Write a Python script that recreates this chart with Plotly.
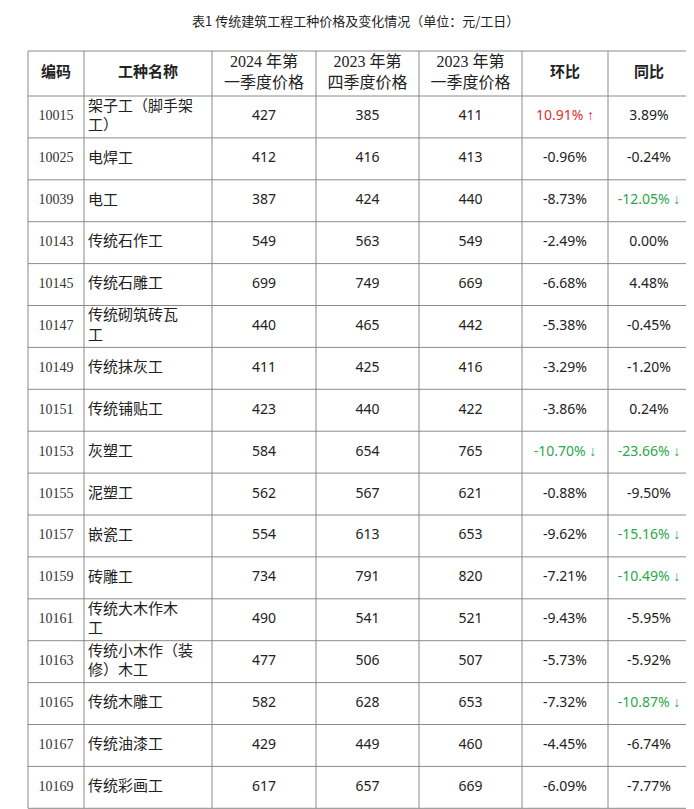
import plotly.graph_objects as go

codes = ["10015","10025","10039","10143","10145","10147","10149","10151","10153","10155","10157","10159","10161","10163","10165","10167","10169"]
names = ["架子工（脚手架<br>工）","电焊工","电工","传统石作工","传统石雕工","传统砌筑砖瓦<br>工","传统抹灰工","传统铺贴工","灰塑工","泥塑工","嵌瓷工","砖雕工","传统大木作木<br>工","传统小木作（装<br>修）木工","传统木雕工","传统油漆工","传统彩画工"]
p2024q1 = [427,412,387,549,699,440,411,423,584,562,554,734,490,477,582,429,617]
p2023q4 = [385,416,424,563,749,465,425,440,654,567,613,791,541,506,628,449,657]
p2023q1 = [411,413,440,549,669,442,416,422,765,621,653,820,521,507,653,460,669]
hb = [10.91,-0.96,-8.73,-2.49,-6.68,-5.38,-3.29,-3.86,-10.70,-0.88,-9.62,-7.21,-9.43,-5.73,-7.32,-4.45,-6.09]
tb = [3.89,-0.24,-12.05,0.00,4.48,-0.45,-1.20,0.24,-23.66,-9.50,-15.16,-10.49,-5.95,-5.92,-10.87,-6.74,-7.77]
headers = ["编码","工种名称","2024 年第<br>一季度价格","2023 年第<br>四季度价格","2023 年第<br>一季度价格","环比","同比"]

def fmt(v):
    s = f"{v:.2f}%"
    if v >= 10: return s + " ↑", "#e03030"
    if v <= -10: return s + " ↓", "#2aa84a"
    return s, "#222222"

hb_t, hb_c = map(list, zip(*[fmt(v) for v in hb]))
tb_t, tb_c = map(list, zip(*[fmt(v) for v in tb]))
n = len(codes)

edges = [20, 76, 204, 308, 411, 514, 600, 682]
top, head_bot, row_h = 43, 88, 41.9
bottom = head_bot + n * row_h
ys = [head_bot + (i + 0.5) * row_h for i in range(n)]
centers = [(edges[i] + edges[i+1]) / 2 for i in range(7)]

fig = go.Figure()
line = dict(color="#8a8a8a", width=1)
for x in edges:
    fig.add_shape(type="line", x0=x, x1=x, y0=top, y1=bottom, line=line)
for y in [top, head_bot] + [head_bot + (i + 1) * row_h for i in range(n)]:
    fig.add_shape(type="line", x0=edges[0], x1=edges[-1], y0=y, y1=y, line=line)

def col(x, vals, colors, fam, size, pos="middle center"):
    fig.add_trace(go.Scatter(x=[x]*len(vals), y=ys[:len(vals)] if len(vals) == n else vals, mode="text",
                             text=vals, textposition=pos, hoverinfo="skip",
                             textfont=dict(family=fam, size=size, color=colors)))

hy = (top + head_bot) / 2
for i, h in enumerate(headers):
    fam = "Liberation Serif, Noto Sans CJK SC" if 2 <= i <= 4 else "Noto Sans CJK SC"
    txt = h if 2 <= i <= 4 else f"<b>{h}</b>"
    fig.add_trace(go.Scatter(x=[centers[i]], y=[hy], mode="text", text=[txt], hoverinfo="skip",
                             textfont=dict(family=fam, size=16 if 2 <= i <= 4 else 15, color="#222222")))

def column(x, vals, colors, fam, size, pos="middle center"):
    fig.add_trace(go.Scatter(x=[x]*n, y=ys, mode="text", text=vals, textposition=pos,
                             hoverinfo="skip", textfont=dict(family=fam, size=size, color=colors)))

column(centers[0], codes, "#333333", "Liberation Serif", 14)
column(edges[1] + 4, names, "#222222", "Noto Sans CJK SC", 15, "middle right")
column(centers[2], [str(v) for v in p2024q1], "#222222", "Noto Sans", 14)
column(centers[3], [str(v) for v in p2023q4], "#222222", "Noto Sans", 14)
column(centers[4], [str(v) for v in p2023q1], "#222222", "Noto Sans", 14)
column(centers[5], hb_t, hb_c, "Noto Sans", 14)
column(centers[6], tb_t, tb_c, "Noto Sans", 14)

fig.add_annotation(text="表1 传统建筑工程工种价格及变化情况（单位：元/工日）", x=347, y=12,
                   xref="x", yref="y", showarrow=False,
                   font=dict(family="Noto Sans CJK SC", size=13, color="#222222"))
fig.update_layout(width=694, height=809, margin=dict(l=0, r=0, t=0, b=0),
                  paper_bgcolor="white", plot_bgcolor="white", showlegend=False,
                  xaxis=dict(range=[0, 694], visible=False, fixedrange=True),
                  yaxis=dict(range=[809, 0], visible=False, fixedrange=True))
fig.write_html("out.html")
